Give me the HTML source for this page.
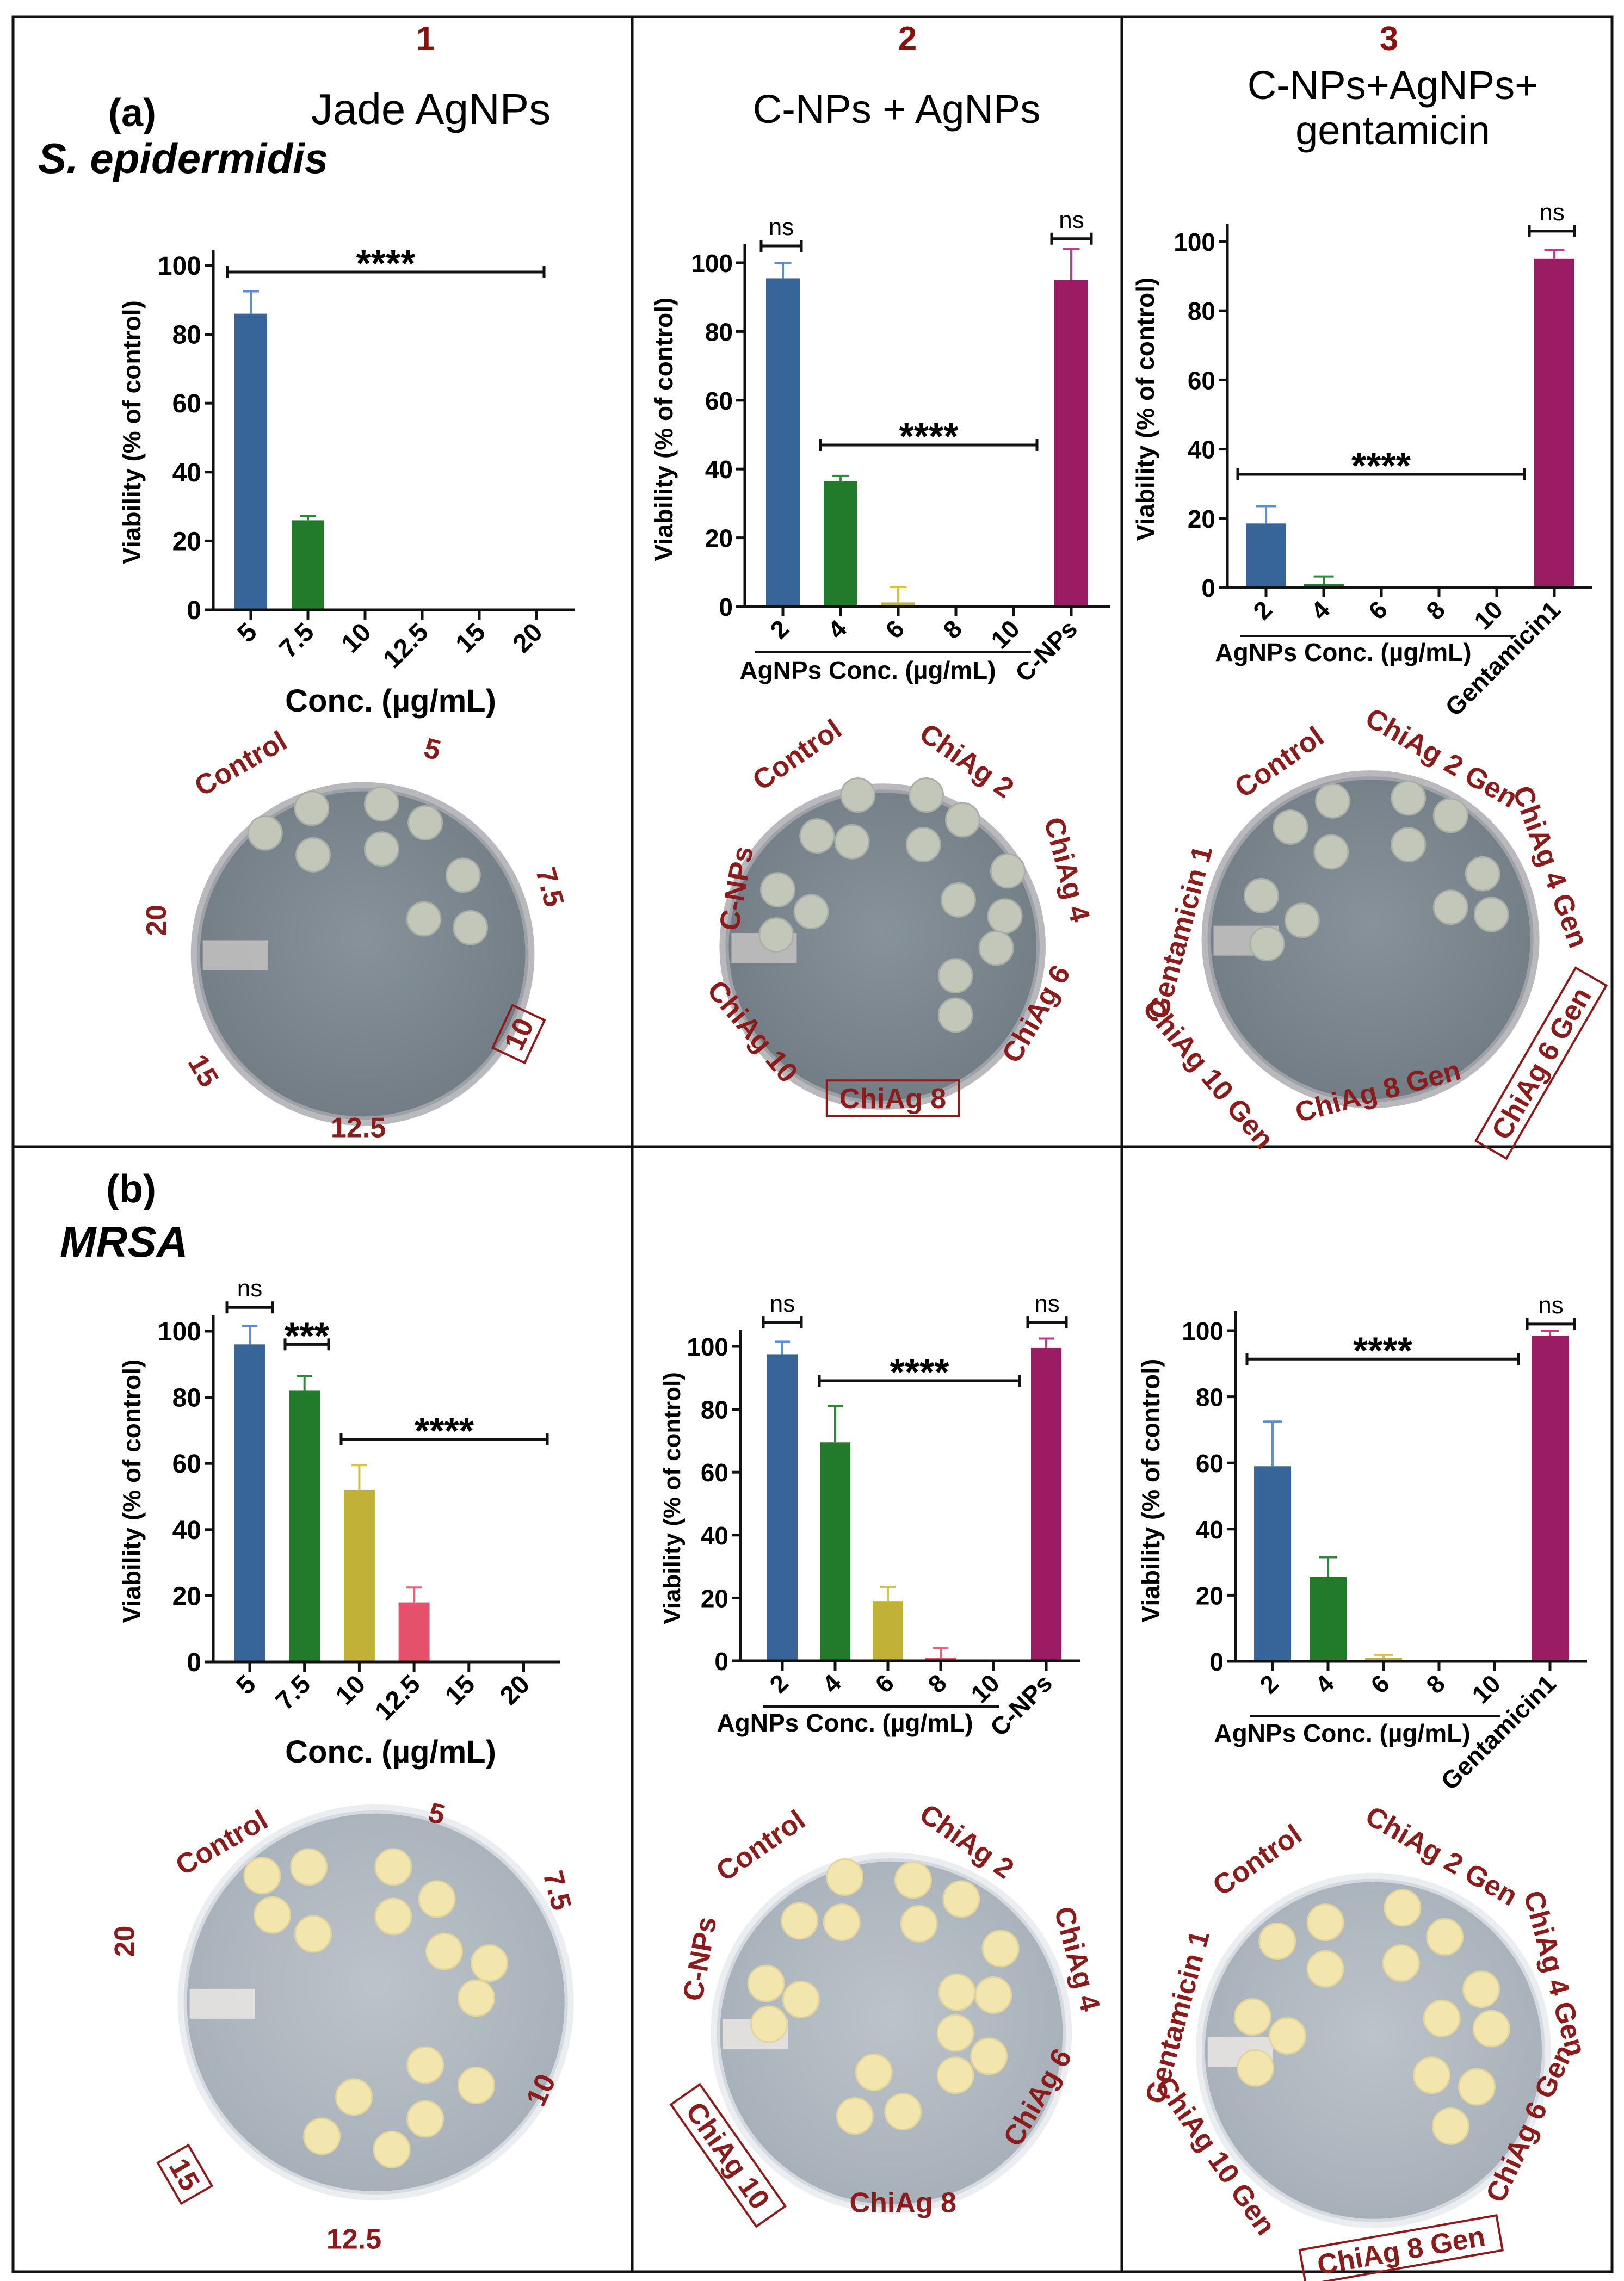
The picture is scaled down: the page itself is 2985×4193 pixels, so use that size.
<!DOCTYPE html>
<html><head><meta charset="utf-8"><style>
html,body{margin:0;padding:0;background:#fff;}
svg{display:block;}
text{font-family:"Liberation Sans",sans-serif;}
.cond{font-family:"Liberation Sans Narrow","Liberation Sans",sans-serif;}
</style></head><body>
<svg id="fig" xmlns="http://www.w3.org/2000/svg" width="2985" height="4193" viewBox="0 0 2985 4193">
<defs>
<radialGradient id="agarA" cx="50%" cy="45%" r="55%"><stop offset="0" stop-color="#87929a"/><stop offset="1" stop-color="#727d85"/></radialGradient>
<radialGradient id="agarB" cx="50%" cy="45%" r="55%"><stop offset="0" stop-color="#bcc3ca"/><stop offset="1" stop-color="#a7b0b9"/></radialGradient>
</defs>
<g stroke="#111" stroke-width="5" fill="none">
<rect x="24" y="31" width="2939" height="4145"/>
<line x1="1162" y1="31" x2="1162" y2="4176"/>
<line x1="2062" y1="31" x2="2062" y2="4176"/>
<line x1="24" y1="2108" x2="2963" y2="2108"/>
</g>
<g>
<text x="782" y="92" font-size="62" font-weight="bold" fill="#8b1010" text-anchor="middle">1</text>
<text x="1668" y="92" font-size="62" font-weight="bold" fill="#8b1010" text-anchor="middle">2</text>
<text x="2553" y="92" font-size="62" font-weight="bold" fill="#8b1010" text-anchor="middle">3</text>
<text x="243" y="232" font-size="72" font-weight="bold" text-anchor="middle">(a)</text>
<text x="792" y="228" font-size="80" text-anchor="middle">Jade AgNPs</text>
<text x="70" y="318" font-size="78" font-weight="bold" font-style="italic">S. epidermidis</text>
<text class="cond" x="1648" y="226" font-size="74" text-anchor="middle">C-NPs + AgNPs</text>
<text class="cond" x="2560" y="182" font-size="74" text-anchor="middle">C-NPs+AgNPs+</text>
<text class="cond" x="2560" y="265" font-size="74" text-anchor="middle">gentamicin</text>
<text x="241" y="2210" font-size="72" font-weight="bold" text-anchor="middle">(b)</text>
<text x="110" y="2310" font-size="80" font-weight="bold" font-style="italic">MRSA</text>
</g>
<g id="charts"></g>
<g id="dishes"></g>
</svg>
<script>
// ---- chart data ----
const a1Cats = ['5','7.5','10','12.5','15','20'];
const a1Vals = [86, 26, 0, 0, 0, 0];
const a1Errs = [6.5, 1.2, 0, 0, 0, 0];
const a2Cats = ['2','4','6','8','10','C-NPs'];
const a2Vals = [95.5, 36.5, 1.2, 0, 0, 95];
const a2Errs = [4.5, 1.5, 4.5, 0, 0, 9];
const a3Cats = ['2','4','6','8','10','Gentamicin1'];
const a3Vals = [18.5, 1, 0, 0, 0, 95];
const a3Errs = [5, 2.2, 0, 0, 0, 2.5];
const b1Cats = ['5','7.5','10','12.5','15','20'];
const b1Vals = [96, 82, 52, 18, 0, 0];
const b1Errs = [5.5, 4.5, 7.5, 4.5, 0, 0];
const b2Cats = ['2','4','6','8','10','C-NPs'];
const b2Vals = [97.5, 69.5, 19, 1, 0, 99.5];
const b2Errs = [4, 11.5, 4.5, 3, 0, 3];
const b3Cats = ['2','4','6','8','10','Gentamicin1'];
const b3Vals = [59, 25.5, 1, 0, 0, 98.5];
const b3Errs = [13.5, 6, 1, 0, 0, 1.5];
const yTicks = [0, 20, 40, 60, 80, 100];

const NS = 'http://www.w3.org/2000/svg';
const FILL = ['#376499','#227a2b','#c1b136','#e5506a','#9b1c62','#9b1c62'];
const ERRC = ['#5b8fd0','#2f8a38','#d4c24a','#e8607a','#c23a86','#c23a86'];
function mk(tag, attrs, parent){const e=document.createElementNS(NS,tag);for(const k in attrs)e.setAttribute(k,attrs[k]);parent.appendChild(e);return e;}

function drawChart(id, L, cats, vals, errs, colors, ecolors){
  const root=document.getElementById('charts');
  const g=mk('g',{},root);
  
  
  const y=v=>L.y0-(L.y0-L.y100)*v/100;
  const x=i=>L.x0+L.step*i;
  const cls=L.cond?'cond':'';
  vals.forEach((v,i)=>{
    if(v>0){
      const r=mk('rect',{x:x(i)-L.bw/2,y:y(v),width:L.bw,height:L.y0-y(v),fill:colors[i]},g);
      
      
    }
    if(errs[i]>0){
      const eg=mk('g',{stroke:ecolors[i],'stroke-width':4},g);
      
      
      mk('line',{x1:x(i),y1:y(v),x2:x(i),y2:y(v+errs[i])},eg);
      mk('line',{x1:x(i)-L.bw*0.25,y1:y(v+errs[i]),x2:x(i)+L.bw*0.25,y2:y(v+errs[i])},eg);
    }
  });
  const ax=mk('g',{stroke:'#111','stroke-width':5,fill:'none'},g);
  
  
  mk('line',{x1:L.x0axis,y1:L.ytop,x2:L.x0axis,y2:L.y0+2},ax);
  mk('line',{x1:L.x0axis-2,y1:L.y0,x2:L.xend,y2:L.y0},ax);
  yTicks.forEach(t=>{
    mk('line',{x1:L.x0axis-16,y1:y(t),x2:L.x0axis,y2:y(t)},ax);
    const tx=mk('text',{x:L.x0axis-22,y:y(t)+17,'font-size':L.tfs,'font-weight':'bold','text-anchor':'end',class:cls},g);
    tx.textContent=t;
    
    
  });
  cats.forEach((c,i)=>{
    mk('line',{x1:x(i),y1:L.y0,x2:x(i),y2:L.y0+18},ax);
    const tx=mk('text',{x:x(i)+14,y:L.y0+44,'font-size':L.tfs,'font-weight':'bold','text-anchor':'end',class:cls,transform:`rotate(-45 ${x(i)+14} ${L.y0+44})`},g);
    tx.textContent=c;
    
    
  });
  const ym=(L.y0+L.y100)/2-10;
  const yt=mk('text',{x:L.ytx,y:ym,'font-size':L.yfs,'font-weight':'bold','text-anchor':'middle',transform:`rotate(-90 ${L.ytx} ${ym})`},g);
  yt.textContent='Viability (% of control)';
  
  
  if(L.xt){
    const t=mk('text',{x:L.xt[0],y:L.xt[1],'font-size':L.xt[2],'font-weight':'bold','text-anchor':'middle',class:L.xt[3]?'cond':''},g);
    t.textContent=L.xt[4];
    
    
  }
  if(L.ul){
    const u=mk('line',{x1:L.ul[0],y1:L.ul[2],x2:L.ul[1],y2:L.ul[2],stroke:'#111','stroke-width':4},g);
    
    
  }
  (L.sig||[]).forEach(s=>{
    const bg=mk('g',{},g);
    
    
    const yy=y(s[2]);
    mk('line',{x1:s[0],y1:yy,x2:s[1],y2:yy,stroke:'#111','stroke-width':5},bg);
    mk('line',{x1:s[0],y1:yy-11,x2:s[0],y2:yy+11,stroke:'#111','stroke-width':5},bg);
    mk('line',{x1:s[1],y1:yy-11,x2:s[1],y2:yy+11,stroke:'#111','stroke-width':5},bg);
    const st=s[3]==='ns';
    const t=mk('text',{x:(s[0]+s[1])/2,y:st?yy-20:yy+8,'font-size':st?44:70,'font-weight':st?'normal':'bold','text-anchor':'middle',class:st&&L.cond?'cond':''},bg);
    t.textContent=s[3];
  });
}
drawChart('a1',{x0:461,step:105,bw:60,x0axis:392,xend:1056,y0:1121,y100:488,ytop:460,tfs:48,yfs:46,ytx:258,
  xt:[718,1308,58,false,'Conc. (µg/mL)'],sig:[[418,1000,98.1,'****']]},a1Cats,a1Vals,a1Errs,FILL,ERRC);
drawChart('a2',{x0:1439,step:106,bw:62,x0axis:1369,xend:2040,y0:1115,y100:483,ytop:448,tfs:46,yfs:46,ytx:1236,cond:true,
  xt:[1595,1248,46,true,'AgNPs Conc. (µg/mL)'],ul:[1387,1895,1198],
  sig:[[1399,1473,104.9,'ns'],[1933,2006,107,'ns'],[1508,1906,47,'****']]},a2Cats,a2Vals,a2Errs,FILL,ERRC);
drawChart('a3',{x0:2327,step:106,bw:74,x0axis:2256,xend:2926,y0:1080,y100:444,ytop:412,tfs:46,yfs:46,ytx:2121,cond:true,
  xt:[2469,1215,46,true,'AgNPs Conc. (µg/mL)'],ul:[2280,2787,1169],
  sig:[[2811,2894,103,'ns'],[2275,2802,32.7,'****']]},a3Cats,a3Vals,a3Errs,FILL,ERRC);
drawChart('b1',{x0:459,step:100.7,bw:57,x0axis:392,xend:1029,y0:3055,y100:2447,ytop:2417,tfs:48,yfs:46,ytx:258,
  xt:[718,3240,58,false,'Conc. (µg/mL)'],
  sig:[[417,501,107.2,'ns'],[524,604,96,'***'],[627,1006,67.3,'****']]},b1Cats,b1Vals,b1Errs,FILL,ERRC);
drawChart('b2',{x0:1438,step:97,bw:56,x0axis:1361,xend:1986,y0:3053,y100:2475,ytop:2445,tfs:46,yfs:44,ytx:1250,cond:true,
  xt:[1553,3183,46,true,'AgNPs Conc. (µg/mL)'],ul:[1403,1836,3137],
  sig:[[1403,1473,107.6,'ns'],[1889,1960,107.6,'ns'],[1506,1874,89.1,'****']]},b2Cats,b2Vals,b2Errs,FILL,ERRC);
drawChart('b3',{x0:2339,step:102,bw:68,x0axis:2271,xend:2917,y0:3054,y100:2446,ytop:2410,tfs:46,yfs:46,ytx:2131,cond:true,
  xt:[2467,3202,46,true,'AgNPs Conc. (µg/mL)'],ul:[2298,2757,3154],
  sig:[[2807,2894,102,'ns'],[2292,2791,91.4,'****']]},b3Cats,b3Vals,b3Errs,FILL,ERRC);

// ---- petri dishes ----
const S=2.677;
const dishes=[
 {id:'a1',c:[249,655,118],t:'A',col:[[182,572],[214,555],[262,552],[292,565],[215,587],[262,583],[318,601],[291,631],[323,637]],
  lab:[['Control',165,524,-30,0],['5',297,514,15,0],['7.5',378,609,75,0],['20',107,632,-90,0],['10',356,710,-65,1],['15',140,735,60,0],['12.5',246,774,0,0]]},
 {id:'a2',c:[606,650,112],t:'A',col:[[589,546],[636,546],[561,574],[585,578],[634,580],[661,563],[692,598],[658,618],[690,629],[534,611],[557,626],[533,642],[656,670],[684,651],[656,697]],
  lab:[['Control',547,518,-35,0],['ChiAg 2',664,522,35,0],['ChiAg 4',733,597,75,0],['C-NPs',505,610,-80,0],['ChiAg 6',711,696,-60,0],['ChiAg 10',517,708,50,0],['ChiAg 8',613,754,0,1]]},
 {id:'a3',c:[941,645,116],t:'A',col:[[886,568],[915,550],[967,548],[996,560],[914,585],[967,580],[1018,600],[996,623],[1024,628],[866,615],[894,632],[870,648]],
  lab:[['Control',878,523,-35,0],['ChiAg 2 Gen',990,520,30,0],['ChiAg 4 Gen',1065,595,70,0],['Gentamicin 1',810,640,-75,0],['ChiAg 6 Gen',1058,730,-60,1],['ChiAg 10 Gen',830,737,50,0],['ChiAg 8 Gen',946,749,-15,0]]},
 {id:'b1',c:[258,1375,136],t:'B',col:[[180,1288],[212,1282],[270,1282],[300,1304],[187,1315],[215,1328],[270,1316],[305,1340],[336,1348],[327,1372],[292,1418],[327,1432],[243,1440],[221,1467],[269,1476],[292,1455]],
  lab:[['Control',152,1265,-30,0],['5',300,1245,15,0],['7.5',383,1298,75,0],['20',85,1333,-90,0],['15',127,1493,60,1],['10',371,1435,-65,0],['12.5',243,1537,0,0]]},
 {id:'b2',c:[612,1396,124],t:'B',col:[[580,1289],[627,1291],[549,1319],[578,1320],[631,1321],[660,1304],[687,1338],[526,1362],[550,1373],[528,1390],[657,1368],[682,1370],[656,1396],[679,1412],[600,1423],[656,1425],[587,1453],[620,1450]],
  lab:[['Control',522,1267,-35,0],['ChiAg 2',664,1264,35,0],['ChiAg 4',740,1345,75,0],['C-NPs',480,1345,-80,0],['ChiAg 6',712,1440,-60,0],['ChiAg 10',500,1480,55,1],['ChiAg 8',620,1512,0,0]]},
 {id:'b3',c:[943,1408,122],t:'B',col:[[877,1333],[910,1320],[963,1310],[992,1330],[910,1352],[962,1348],[1017,1366],[990,1386],[1024,1393],[860,1385],[884,1398],[862,1420],[983,1425],[1014,1433],[996,1460]],
  lab:[['Control',863,1277,-35,0],['ChiAg 2 Gen',990,1274,30,0],['ChiAg 4 Gen',1068,1355,75,0],['Gentamicin 1',808,1385,-75,0],['ChiAg 6 Gen',1050,1458,-65,0],['ChiAg 10 Gen',835,1480,55,0],['ChiAg 8 Gen',962,1545,-10,1]]}
];
const droot=document.getElementById('dishes');
dishes.forEach(d=>{
  const g=mk('g',{},droot);
  
  
  const cx=d.c[0]*S, cy=d.c[1]*S, r=d.c[2]*S;
  const A=d.t==='A';
  mk('circle',{cx:cx,cy:cy,r:r,fill:A?'#b9b8bd':'#ecedf0'},g);
  mk('circle',{cx:cx,cy:cy,r:r-14,fill:A?'url(#agarA)':'url(#agarB)',stroke:A?'#9ea2a8':'#d5d9e0','stroke-width':6},g);
  mk('rect',{x:cx-r+22,y:cy-25,width:120,height:55,fill:A?'#c9c6c4':'#eeeae6',opacity:0.8},g);
  d.col.forEach(p=>{
    const c=mk('circle',{cx:p[0]*S,cy:p[1]*S,r:A?31:33,fill:A?'#c3c7ba':'#f2e5ad',stroke:A?'#a9afa6':'#e2d49a','stroke-width':3},g);
    
    
  });
  d.lab.forEach(l=>{
    const x=l[1]*S, y=l[2]*S;
    const lg=mk('g',{transform:`translate(${x} ${y}) rotate(${l[3]})`},g);
    
    
    const fs=52;
    if(l[4]){
      const w=l[0].length*fs*0.6+24;
      mk('rect',{x:-w/2,y:-fs*0.62,width:w,height:fs*1.25,fill:'none',stroke:'#8b1c1c','stroke-width':4},lg);
    }
    const t=mk('text',{x:0,y:fs*0.36,'font-size':fs,'font-weight':'bold',fill:'#8b1c1c','text-anchor':'middle'},lg);
    t.textContent=l[0];
  });
});
</script>
</body></html>
